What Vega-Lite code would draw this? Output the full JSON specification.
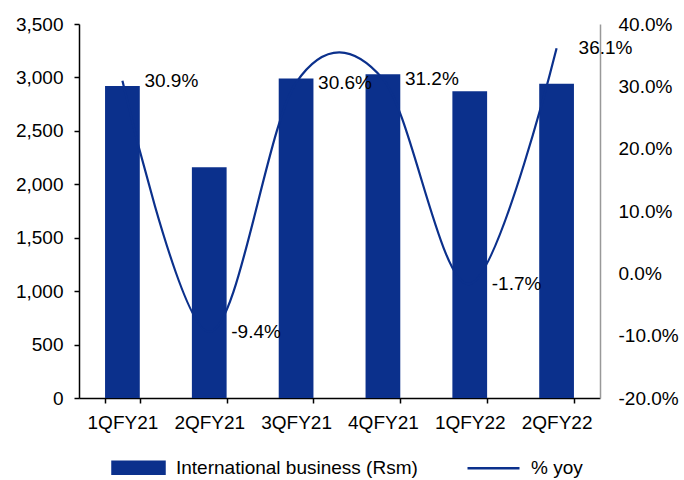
{
  "$schema": "https://vega.github.io/schema/vega-lite/v6.json",
  "width": 521,
  "height": 374,
  "autosize": "none",
  "padding": {"left": 79, "top": 24, "right": 84, "bottom": 82},
  "background": "white",
  "config": {
    "view": {"stroke": null},
    "font": "Liberation Sans",
    "axis": {"grid": false, "labelFont": "Liberation Sans", "labelFontSize": 19, "labelColor": "#000", "titleFontSize": 0}
  },
  "data": {
    "values": [
      {"quarter": "1QFY21", "revenue": 2920, "yoy": 30.9, "label": "30.9%"},
      {"quarter": "2QFY21", "revenue": 2160, "yoy": -9.4, "label": "-9.4%"},
      {"quarter": "3QFY21", "revenue": 2990, "yoy": 30.6, "label": "30.6%"},
      {"quarter": "4QFY21", "revenue": 3030, "yoy": 31.2, "label": "31.2%"},
      {"quarter": "1QFY22", "revenue": 2870, "yoy": -1.7, "label": "-1.7%"},
      {"quarter": "2QFY22", "revenue": 2940, "yoy": 36.1, "label": "36.1%"}
    ]
  },
  "encoding": {
    "x": {
      "field": "quarter", "type": "nominal", "sort": null, "title": null,
      "scale": {"paddingInner": 0.6, "paddingOuter": 0.3},
      "axis": {"labelAngle": 0, "domainColor": "#000", "domainWidth": 1.5, "tickColor": "#000", "tickWidth": 1.5, "tickSize": 5, "tickBand": "extent", "labelPadding": 10}
    }
  },
  "layer": [
    {
      "mark": {"type": "bar", "color": "#0b308c"},
      "encoding": {
        "y": {
          "field": "revenue", "type": "quantitative", "title": null,
          "scale": {"domain": [0, 3500]},
          "axis": {"values": [0, 500, 1000, 1500, 2000, 2500, 3000, 3500], "format": ",d", "domainColor": "#000", "domainWidth": 1.5, "tickColor": "#000", "tickWidth": 1.5, "tickSize": 5, "labelPadding": 11}
        },
        "color": {
          "datum": "International business (Rsm)",
          "scale": {"domain": ["International business (Rsm)", "% yoy"], "range": ["#0b308c", "#0b308c"]},
          "legend": {
            "orient": "none", "legendX": 32, "legendY": 416, "direction": "horizontal", "title": null,
            "labelFont": "Liberation Sans", "labelFontSize": 19, "labelColor": "#000", "labelOffset": 10, "labelLimit": 400,
            "columnPadding": 44, "symbolSize": 2704, "symbolStrokeWidth": 2,
            "encode": {
              "symbols": {
                "update": {
                  "shape": {"signal": "datum.label == '% yoy' ? 'M-1,0H1' : 'M-1,-0.23H1V0.23H-1Z'"},
                  "fill": {"signal": "datum.label == '% yoy' ? 'transparent' : '#0b308c'"},
                  "stroke": {"signal": "datum.label == '% yoy' ? '#0b308c' : 'transparent'"},
                  "strokeWidth": {"value": 2.5},
                  "opacity": {"value": 1}
                }
              }
            }
          }
        }
      }
    },
    {
      "layer": [
        {
          "mark": {"type": "line", "interpolate": "cardinal", "tension": 0, "strokeWidth": 2.2, "color": "#0b308c"},
          "encoding": {
            "y": {
              "field": "yoy", "type": "quantitative", "title": null,
              "scale": {"domain": [-20, 40]},
              "axis": {"orient": "right", "values": [-20, -10, 0, 10, 20, 30, 40], "labelExpr": "replace(format(datum.value, '.1f'), '\u2212', '-') + '%'", "domainColor": "#999", "domainWidth": 1.5, "ticks": false, "labelPadding": 18}
            },
            "color": {"datum": "% yoy"}
          }
        },
        {
          "mark": {"type": "text", "align": "left", "baseline": "middle", "dx": 22, "fontSize": 19, "font": "Liberation Sans", "color": "#000"},
          "encoding": {
            "y": {"field": "yoy", "type": "quantitative"},
            "text": {"field": "label"}
          }
        }
      ]
    }
  ],
  "resolve": {"scale": {"y": "independent"}}
}
